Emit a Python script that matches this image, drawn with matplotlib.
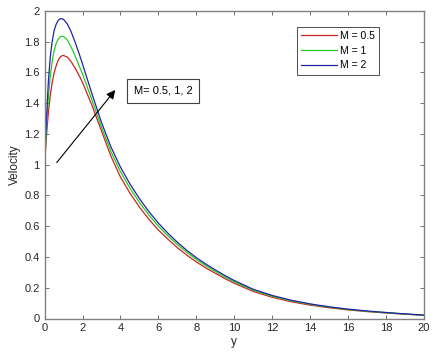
import numpy as np
import matplotlib
matplotlib.use("Agg")
import matplotlib.pyplot as plt

plt.rcParams['font.family'] = ['Liberation Sans', 'DejaVu Sans']

# valori
y = [0, 0.1, 0.2, 0.3, 0.4, 0.5, 0.6, 0.7, 0.8, 0.9, 1.0, 1.2, 1.4, 1.6, 1.8, 2.0,
     2.5, 3.0, 3.5, 4.0, 4.5, 5.0, 5.5, 6.0, 6.5, 7.0, 7.5, 8.0, 8.5, 9.0, 9.5,
     10, 11, 12, 13, 14, 15, 16, 17, 18, 19, 20]
v_m05 = [1.0, 1.19, 1.34, 1.45, 1.535, 1.595, 1.64, 1.675, 1.697, 1.708, 1.71,
         1.70, 1.67, 1.63, 1.585, 1.535, 1.385, 1.22, 1.055, 0.92, 0.815, 0.725,
         0.645, 0.575, 0.516, 0.461, 0.412, 0.368, 0.329, 0.294, 0.26, 0.229,
         0.176, 0.138, 0.109, 0.087, 0.07, 0.056, 0.045, 0.036, 0.028, 0.021]
v_m1 = [1.0, 1.25, 1.44, 1.575, 1.67, 1.74, 1.785, 1.813, 1.829, 1.835, 1.834,
        1.81, 1.765, 1.71, 1.65, 1.59, 1.42, 1.245, 1.085, 0.955, 0.848, 0.755,
        0.673, 0.60, 0.538, 0.481, 0.43, 0.384, 0.343, 0.306, 0.271, 0.239,
        0.184, 0.145, 0.115, 0.092, 0.074, 0.059, 0.047, 0.038, 0.029, 0.022]
v_m2 = [1.0, 1.30, 1.54, 1.70, 1.80, 1.87, 1.91, 1.935, 1.947, 1.95, 1.945,
        1.915, 1.865, 1.80, 1.73, 1.655, 1.46, 1.275, 1.115, 0.985, 0.875, 0.78,
        0.695, 0.62, 0.555, 0.496, 0.443, 0.396, 0.354, 0.316, 0.28, 0.247,
        0.19, 0.15, 0.119, 0.095, 0.076, 0.061, 0.049, 0.039, 0.030, 0.022]
labels = ['M = 0.5', 'M = 1', 'M = 2']
colors = ['#cc2222', '#22cc22', '#2222aa']

fig = plt.figure(figsize=(4.37, 3.64), dpi=100)
ax = fig.add_axes([0.102, 0.125, 0.868, 0.845])

for v, lab, c in zip([v_m05, v_m1, v_m2], labels, colors):
    ax.plot(y, v, color=c, lw=0.9, label=lab)

ax.set_xlim(0, 20)
ax.set_ylim(0, 2)
ax.set_xticks(np.arange(0, 21, 2))
ax.set_yticks(np.arange(0, 2.01, 0.2))
ax.set_yticklabels(['0', '0.2', '0.4', '0.6', '0.8', '1', '1.2', '1.4', '1.6', '1.8', '2'])
ax.tick_params(direction='in', top=True, right=True, length=3, width=0.7,
               labelsize=8, colors='#707070', labelcolor='#262626')
for s in ax.spines.values():
    s.set_color('#808080')
    s.set_linewidth(1.0)

ax.set_xlabel('y', fontsize=8.5, color='#262626', labelpad=2)
ax.set_ylabel('Velocity', fontsize=8.5, color='#262626', labelpad=2)

leg = ax.legend(loc='upper right', bbox_to_anchor=(0.895, 0.965), fontsize=7.5,
                frameon=True, fancybox=False, handlelength=3.4, borderpad=0.4,
                labelspacing=0.45, handletextpad=0.3)
leg.get_frame().set_edgecolor('#202020')
leg.get_frame().set_linewidth(0.7)

ax.annotate('', xy=(3.82, 1.50), xytext=(0.55, 1.0),
            arrowprops=dict(arrowstyle='-|>', color='k', lw=0.8, mutation_scale=13))
ax.text(6.24, 1.48, 'M= 0.5, 1, 2', ha='center', va='center', fontsize=8,
        bbox=dict(boxstyle='square,pad=0.6', fc='white', ec='#404040', lw=0.8))

fig.savefig('out.png', dpi=100)
